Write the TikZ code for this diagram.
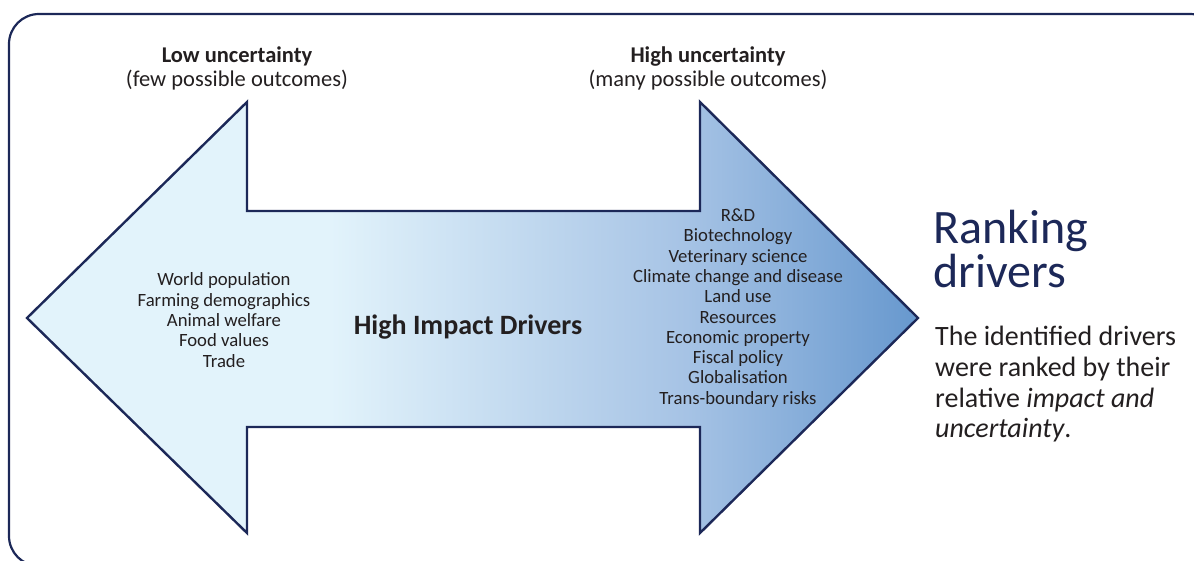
\documentclass[tikz,border=0pt]{standalone}
\usepackage{fontspec}
\setmainfont{Carlito}
\definecolor{navy}{HTML}{1C2858}
\definecolor{txt}{HTML}{231F20}
\definecolor{lightc}{HTML}{E2F3FB}
\definecolor{midc}{HTML}{A6C3E5}
\definecolor{darkc}{HTML}{6798CE}
\pgfdeclarehorizontalshading{arrowshade}{100bp}{color(0bp)=(lightc); color(42bp)=(lightc); color(62bp)=(midc); color(75bp)=(darkc); color(100bp)=(darkc)}
\tikzset{
  lbl/.style={text=txt, align=center, inner sep=0pt},
  listtxt/.style={lbl, font=\fontsize{18.7}{20.3}\selectfont},
  headtxt/.style={lbl, font=\fontsize{22.5}{24}\selectfont},
}
\begin{document}
\begin{tikzpicture}[x=1pt,y=-1pt]
\useasboundingbox (0,0) rectangle (1194,561);
% frame
\draw[navy, line width=2.2pt, rounded corners=30pt] (9,14) rectangle (1220,566);
% double arrow
\path[shading=arrowshade, draw=navy, line width=2.4pt, line join=miter]
  (27,318) -- (247,102) -- (247,211) -- (700,211) -- (700,102) -- (918,318)
  -- (700,533) -- (700,427) -- (247,427) -- (247,533) -- cycle;
% top labels
\node[headtxt] (low) at (237,68) {\textbf{Low uncertainty}\\(few possible outcomes)};
\node[headtxt] (high) at (708,68) {\textbf{High uncertainty}\\(many possible outcomes)};
% lists
\node[listtxt] (leftlist) at (224,320) {World population\\Farming demographics\\Animal welfare\\Food values\\Trade};
\node[lbl, font=\fontsize{28}{30}\bfseries] (hid) at (468,327) {High Impact Drivers};
\node[listtxt] (rightlist) at (738,308) {R\&D\\Biotechnology\\Veterinary science\\Climate change and disease\\Land use\\Resources\\Economic property\\Fiscal policy\\Globalisation\\Trans-boundary risks};
% right text
\node[lbl, text=navy, align=left, anchor=north west, font=\fontsize{48}{44}\selectfont] (title) at (933,210) {Ranking\\drivers};
\node[lbl, align=left, anchor=north west, font=\fontsize{28}{30.7}\selectfont] (body) at (935,326) {The identified drivers\\were ranked by their\\relative \textit{impact and}\\\textit{uncertainty}.};
\end{tikzpicture}
\end{document}
